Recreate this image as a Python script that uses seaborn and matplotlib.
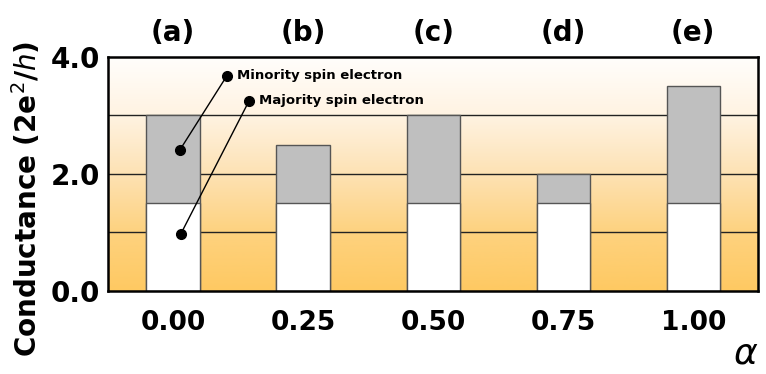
import numpy as np
import pandas as pd
import matplotlib
matplotlib.use('Agg')
from matplotlib import pyplot as plt
from matplotlib.colors import LinearSegmentedColormap
import seaborn as sns

# data
alpha_labels = ['0.00', '0.25', '0.50', '0.75', '1.00']
panel_labels = ['(a)', '(b)', '(c)', '(d)', '(e)']
majority = [1.5, 1.5, 1.5, 1.5, 1.5]
minority = [1.5, 1.0, 1.5, 0.5, 2.0]
y_ticks = [0.0, 2.0, 4.0]
grid_levels = [1.0, 2.0, 3.0]

df = pd.DataFrame({'alpha': alpha_labels, 'majority': majority, 'minority': minority})
df['total'] = df['majority'] + df['minority']

sns.set_style('white')
plt.rcParams['font.family'] = ['DejaVu Sans']
plt.rcParams['text.color'] = 'black'
plt.rcParams['axes.labelcolor'] = 'black'
plt.rcParams['xtick.color'] = 'black'
plt.rcParams['ytick.color'] = 'black'

fig = plt.figure(figsize=(7.66, 3.74), dpi=100)
ax = fig.add_axes([0.141, 0.222, 0.849, 0.626])

# background gradient (white at top -> orange at bottom)
cmap = LinearSegmentedColormap.from_list(
    'bg', [(0.0, '#fec962'), (0.25, '#fed27f'), (0.5, '#fde2b4'),
           (0.75, '#fff3e2'), (1.0, '#fffefc')])
grad = np.linspace(0, 1, 256).reshape(-1, 1)
ax.imshow(grad, cmap=cmap, aspect='auto', origin='lower',
          extent=[-0.5, 4.5, 0, 4], zorder=0)

for lvl in grid_levels:
    ax.axhline(lvl, color='#222222', lw=1.0, zorder=1)

sns.barplot(data=df, x='alpha', y='total', color='#bfbfbf', width=0.41,
            edgecolor='#555555', linewidth=1.0, saturation=1, ax=ax, zorder=2)
sns.barplot(data=df, x='alpha', y='majority', color='white', width=0.41,
            edgecolor='#555555', linewidth=1.0, saturation=1, ax=ax, zorder=3)

ax.set_xlim(-0.5, 4.5)
ax.set_ylim(0, 4)
ax.set_xticks(range(len(alpha_labels)))
ax.set_xticklabels(alpha_labels, fontsize=19, fontweight='bold')
ax.set_xticks(np.arange(len(alpha_labels) - 1) + 0.5, minor=True)
ax.tick_params(axis='x', which='major', length=0, pad=14)
ax.tick_params(axis='x', which='minor', direction='in', length=5, width=1.2, color='black')
ax.set_yticks(y_ticks)
ax.set_yticklabels(['%.1f' % v for v in y_ticks], fontsize=20, fontweight='bold')
ax.tick_params(axis='y', length=0, pad=6)
ax.set_xlabel('')
ax.set_ylabel('Conductance (2e$^2$/$h$)', fontsize=20, fontweight='bold')
ax.yaxis.set_label_coords(-0.10, 0.393)

for s in ax.spines.values():
    s.set_visible(True)
    s.set_color('black')
    s.set_linewidth(1.8)
    s.set_zorder(5)

# panel labels above each bar
for i, lab in enumerate(panel_labels):
    ax.text(i, 1.10, lab, transform=ax.get_xaxis_transform(),
            ha='center', va='center', fontsize=20, fontweight='bold')

# callouts pointing into bar (a)
min_pt = (0.05, majority[0] + minority[0] * 0.6)
maj_pt = (0.06, majority[0] * 0.65)
ax.plot([min_pt[0], 0.415], [min_pt[1], 3.68], '-o', color='black', lw=1, ms=7, zorder=6)
ax.plot([maj_pt[0], 0.585], [maj_pt[1], 3.25], '-o', color='black', lw=1, ms=7, zorder=6)
ax.text(0.49, 3.68, 'Minority spin electron', fontsize=9.5, fontweight='bold', va='center', zorder=6)
ax.text(0.66, 3.25, 'Majority spin electron', fontsize=9.5, fontweight='bold', va='center', zorder=6)

fig.text(0.99, 0.01, r'$\alpha$', ha='right', va='bottom', fontsize=26)

fig.savefig('out.png', dpi=100)
